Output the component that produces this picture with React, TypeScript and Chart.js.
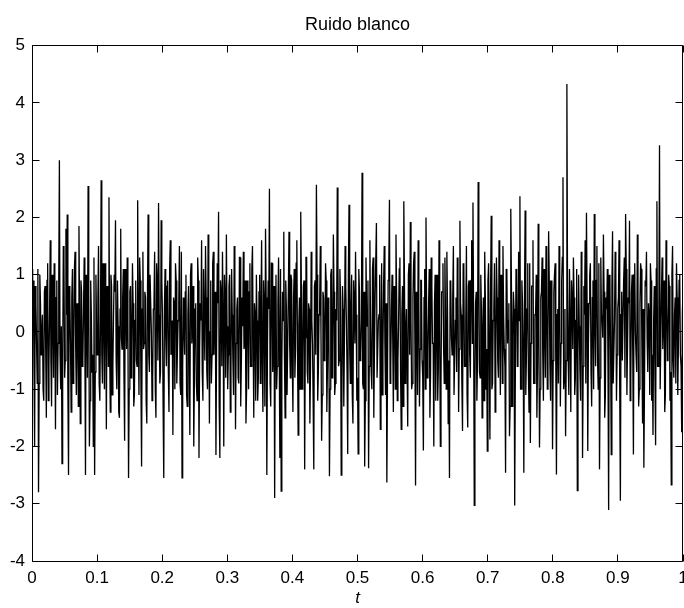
import React, { useEffect, useRef } from "react";
import { Chart, registerables } from "chart.js";

Chart.register(...registerables);

const chartTitle = "Ruido blanco";
const xAxisTitle = "t";
const xTickLabels = ["0", "0.1", "0.2", "0.3", "0.4", "0.5", "0.6", "0.7", "0.8", "0.9", "1"];
const yTickLabels = ["-4", "-3", "-2", "-1", "0", "1", "2", "3", "4", "5"];
const tStart = 0;
const tEnd = 1;

// white-noise samples: even-numbered samples (carry the visible spikes)
const noiseEven: number[] = [
  1.1, 0.9, -2.0, 0.5, -0.9, -2.8, 1.0, -0.4, 0.3, -1.2, 0.8, -1.5, 1.2, -0.6, 1.6, -1.3, 0.4, 1.2, -1.7, 0.9, -0.2, 3.0, -1.0, -2.3, 1.5,
  -0.8, 1.8, 2.05, -2.5, 0.6, -1.4, 1.1, -0.3, 1.4, -1.1, 0.2, 1.85, -1.6, 0.7, -0.5, 1.3, -2.5, 0.4, 2.55, -2.0, 0.9, -0.7, -2.0, -2.5, 1.0,
  -0.4, 1.5, -1.2, 2.65, -0.9, 0.3, 1.2, -1.7, 0.6, 2.35, -1.4, 0.8, -0.6, 1.0, 1.95, -1.0, 0.1, -1.5, 1.8, -0.3, 1.1, -1.9, 0.5, 1.3, -2.55,
  0.7, -0.8, 1.2, -1.3, 0.2, -0.5, 2.3, -1.1, 0.9, -2.35, 1.4, -0.2, 0.6, -1.6, 2.05, -0.7, 1.0, -1.2, 0.4, 1.4, -1.5, 0.8, 2.25, -0.9, 1.95,
  0.3, -2.55, 1.1, -0.6, 0.9, -1.4, 1.6, -0.3, -1.8, 0.5, 1.2, -0.9, 0.2, 1.5, -1.1, -2.55, 0.6, -0.4, 1.0, -1.3, 0.8, -1.8, 1.2, 0.1, -2.0,
  0.4, -0.9, 1.3, -2.2, 0.5, 1.6, -1.2, 0.2, 1.5, -0.7, 1.7, -1.6, 0.9, -0.4, 1.4, 0.3, -2.15, 1.2, 2.1, -2.2, 0.7, 1.4, -2.0, 0.6, 1.7,
  -1.0, 0.8, -1.4, 1.1, -0.5, 1.5, -1.7, 0.4, -0.8, 1.3, -1.3, 0.6, 1.4, -0.2, -1.6, 0.9, -1.0, 1.2, -0.6, 1.5, -1.5, 0.3, 1.0, -1.2, 0.7,
  -0.9, 1.6, -1.4, 0.5, 1.8, -2.5, 0.9, 2.5, -1.3, 1.2, -0.4, -2.9, 1.0, -0.6, 1.3, -2.2, -2.78, 0.7, 1.75, -1.5, 0.4, -1.1, 1.75, -0.8, 0.9,
  -1.4, 1.1, -0.3, 1.6, -1.8, 0.6, 2.1, -1.0, 0.8, -2.4, 1.3, -0.7, 0.5, -1.6, 1.4, -0.2, -2.4, 0.9, 2.57, -1.2, 0.3, 1.5, -1.9, 0.7, -0.5,
  1.2, -1.4, 0.6, -2.52, 1.0, -0.8, 1.7, -1.1, 0.4, 2.52, -0.6, 1.1, -2.5, 0.8, -1.3, 1.5, 0.2, -2.13, 2.22, -0.9, 1.0, -1.6, 0.5, 1.4, -1.2,
  -2.13, 0.7, -0.4, 2.78, -1.0, -2.35, 1.3, 0.1, -2.38, 1.6, -0.7, 1.1, -1.5, 0.6, 1.9, -0.8, 0.3, -1.7, 1.2, -0.3, 1.5, -1.1, -2.63, 0.9, 2.31,
  -0.6, 1.0, -1.4, 0.5, 1.7, -1.2, 0.2, 1.3, -1.7, 0.8, 2.28, -0.9, 0.4, -1.65, 1.2, 1.92, -1.0, 0.6, 1.4, -2.68, 0.3, 1.6, -1.3, 0.9, -0.5,
  -2.07, 1.1, 2.0, -0.8, 0.5, -1.5, 1.3, -0.2, -2.0, 1.0, 0.4, -1.2, 1.6, -2.0, 0.7, 1.2, -0.9, 0.2, 1.4, -1.6, -2.55, 0.8, -0.4, 1.5, -1.1,
  0.6, 1.3, -1.4, 1.94, 0.3, -1.73, 1.1, -0.6, 1.5, -1.67, 0.9, -0.8, 1.6, 2.26, -3.03, 0.5, -1.2, 2.62, -0.7, 1.0, -1.5, 0.6, 1.4, -1.0, -2.08,
  1.2, -1.88, 2.03, -0.9, 0.4, -1.4, 1.3, -0.5, 1.6, -1.1, 0.8, 1.5, -0.3, -2.46, 1.0, 0.2, -1.82, 2.15, -1.3, 0.7, -3.03, 1.1, -0.6, 1.4, 2.37,
  -1.0, 0.5, -2.46, 2.12, -0.4, 1.2, -1.4, -1.94, 0.8, 1.6, -0.9, 0.3, -1.5, 1.89, -2.02, 0.6, 1.3, -1.2, 0.1, 1.5, -1.0, 1.76, -0.6, 0.9, -2.05,
  0.7, 1.2, -2.49, 0.4, 1.5, -1.3, 0.9, 2.7, -0.8, -1.82, 4.33, -0.5, 1.1, -1.4, 0.6, 1.3, -1.1, 0.2, -2.77, 1.0, -0.7, 1.4, -2.2, 0.8, 1.6,
  2.08, -2.08, 0.5, 1.2, -1.3, 0.9, 2.06, -0.6, 1.5, -1.0, -2.4, 1.3, 0.2, 1.7, -1.5, 0.6, 1.1, -3.11, 0.8, -2.14, 1.76, -0.9, 1.4, -1.2, 0.4,
  1.6, -2.95, 0.7, -0.5, 1.3, 2.06, -1.1, 0.6, 1.94, -0.8, 1.0, -2.14, 1.2, -0.4, 1.7, -1.3, 0.5, 1.1, -1.6, -2.37, 0.9, 1.4, -0.7, 0.3, 1.2,
  -1.2, -1.8, 0.8, -1.98, 2.28, -0.6, 3.26, -1.0, 1.3, 0.2, -1.4, 1.6, -0.5, 1.0, -1.2, -2.67, 1.5, -0.8, 0.6, 1.2, -1.1, 0.9, -0.4, -1.75, 0.8,
];

// odd-numbered samples (fill the dense core of the band)
const noiseOdd: number[] = [
  0.3, -0.6, 0.8, -0.2, 1.1, -0.9, 0.5, 0.0, -1.0, 0.7, -0.3, 0.9, -1.2, 0.4, -0.5, 1.0, -0.8, 0.2, 0.6, -1.1, 0.9, -0.4, 0.1, -0.7, 1.2,
  -0.5, 0.3, -1.0, 0.8, -0.2, 0.6, -0.9, 1.1, -0.3, 0.5, -1.3, 0.2, 0.9, -0.6, 0.4, -0.1, 1.0, -0.8, 0.7, -1.2, 0.3, -0.4, 1.3, -0.7, 0.1,
  0.6, -0.9, 0.2, -0.4, 1.2, -1.0, 0.5, 0.8, -0.6, -0.2, 1.0, -1.1, 0.3, 0.7, -0.5, 0.9, -1.4, 0.4, -0.1, 0.6, -0.8, 1.1, -0.3, 0.2, -1.0,
  0.8, -0.2, 0.5, -1.1, 0.9, -0.6, 0.1, 1.3, -0.9, 0.4, -0.3, 0.7, -1.2, 0.6, -0.4, 1.0, 0.0, -0.8, 0.5, -1.0, 1.2, -0.5, 0.3, -0.7, 0.9,
  -1.3, 0.4, -0.1, 0.8, -0.7, 1.1, -0.4, 0.2, 0.6, -1.0, 0.9, -0.3, 0.5, -0.9, 1.4, -0.6, 0.1, 0.7, -1.1, 0.3, -0.5, 1.0, -0.2, 0.8, -0.8,
  0.5, -1.2, 0.9, -0.3, 0.2, -0.7, 1.1, -0.5, 0.6, -1.0, 0.4, 0.0, -0.9, 1.2, -0.4, 0.7, -0.2, 0.5, -1.3, 0.9, -0.6, 0.3, 1.0, -0.8, 0.1,
  -0.4, 1.0, -0.7, 0.3, -1.1, 0.8, -0.2, 0.6, -0.9, 1.3, -0.5, 0.1, -0.3, 0.9, -1.0, 0.4, 0.7, -0.6, 1.1, -0.1, 0.5, -1.2, 0.2, -0.8, 1.0,
  0.3, -0.5, 0.9, -1.3, 0.6, -0.2, 0.4, -0.9, 1.2, -0.7, 0.8, 0.0, -1.0, 0.5, -0.3, 1.1, -0.6, 0.2, -0.4, 0.9, -1.1, 0.7, -0.2, 1.0, -0.5,
  0.6, -0.8, 1.2, -0.3, 0.1, -1.0, 0.7, -0.5, 0.9, -0.1, 1.3, -0.9, 0.4, -0.6, 0.2, -1.2, 0.8, -0.4, 1.0, -0.7, 0.5, 0.0, -1.1, 0.6, -0.2,
  0.9, -0.6, 0.3, -1.0, 1.1, -0.4, 0.7, -0.9, 0.2, 1.2, -0.5, 0.6, -1.3, 0.4, -0.1, 0.8, -0.7, 1.0, -0.3, 0.5, -1.1, 0.9, -0.2, 0.3, -0.8,
  1.1, -0.5, 0.2, -0.9, 0.7, -1.2, 0.4, 0.9, -0.6, 0.1, -1.0, 1.3, -0.3, 0.6, -0.8, 0.2, 1.0, -0.4, -1.1, 0.8, -0.2, 0.5, -0.7, 1.2, -0.9,
  0.4, -0.1, 0.8, -1.0, 0.6, -0.5, 1.1, -0.7, 0.3, -1.3, 0.9, 0.0, -0.6, 1.0, -0.4, 0.2, -0.9, 1.2, -0.2, 0.7, -1.1, 0.5, -0.3, 0.9, -0.8,
  0.6, -1.0, 0.3, -0.4, 1.1, -0.7, 0.8, -0.2, 0.5, -1.2, 1.0, -0.6, 0.1, -0.9, 0.7, -0.3, 1.3, -1.0, 0.4, -0.5, 0.9, -0.1, 0.6, -1.1, 0.2,
  -0.7, 1.0, -0.3, 0.5, -0.9, 1.2, -0.6, 0.2, -1.1, 0.8, -0.4, 0.9, -0.2, 0.3, -1.0, 0.7, -0.5, 1.1, -0.8, 0.4, 0.0, -1.2, 0.6, -0.3, 0.9,
  -0.5, 0.7, -1.0, 0.2, 1.2, -0.4, 0.6, -0.8, 0.1, 1.0, -0.9, 0.3, -0.6, 1.1, -0.2, 0.5, -1.3, 0.8, -0.1, 0.4, -0.7, 1.0, -0.5, 0.2, -1.0,
  0.9, -0.3, 0.6, -1.1, 0.4, -0.7, 1.2, -0.2, 0.8, -0.9, 0.3, 1.0, -0.6, 0.1, -1.0, 0.7, -0.4, 1.1, -0.8, 0.5, -0.1, 0.9, -1.2, 0.2, -0.5,
  1.0, -0.6, 0.3, -0.9, 0.8, -0.2, 1.3, -1.0, 0.4, -0.5, 0.7, -1.1, 0.2, 0.9, -0.3, 0.6, -0.8, 1.1, -0.4, 0.1, -1.2, 0.8, -0.6, 0.3, -0.9,
  0.5, -0.2, 1.0, -0.7, 0.6, -1.0, 0.2, 0.9, -0.5, 1.2, -0.8, 0.3, -0.1, 0.7, -1.1, 0.4, -0.6, 1.0, -0.3, 0.8, -0.9, 0.2, 1.1, -0.4, 0.6,
  -1.0, 0.3, -0.5, 0.9, -0.8, 1.1, -0.2, 0.5, -1.2, 0.7, -0.4, 1.0, 0.0, -0.7, 0.6, -1.0, 1.2, -0.3, 0.4, -0.9, 0.8, -0.1, 0.5, -1.1, 0.9,
  -0.4, 0.2, -0.8, 1.1, -0.6, 0.4, -1.0, 0.7, -0.3, 0.9, -1.1, 0.5, -0.2, 0.8, -0.7, 1.0, -0.5, 0.3, -0.9, 0.6, -0.2, 1.0, -0.6, 0.3,
];

const FONT = "'Liberation Sans', Arial, Helvetica, sans-serif";

const framePlugin = {
  id: "matlabFrame",
  afterDatasetsDraw(chart: any) {
    const { ctx, chartArea, scales } = chart;
    const L = Math.floor(chartArea.left) + 0.5;
    const R = Math.floor(chartArea.right) - 0.5;
    const T = Math.floor(chartArea.top) + 0.5;
    const B = Math.floor(chartArea.bottom) + 0.5;
    const len = 7;
    ctx.save();
    ctx.strokeStyle = "#000";
    ctx.lineWidth = 1;
    ctx.beginPath();
    ctx.rect(L, T, R - L, B - T);
    scales.x.ticks.forEach((tk: any) => {
      const px = Math.floor(scales.x.getPixelForValue(tk.value)) + 0.5;
      ctx.moveTo(px, B);
      ctx.lineTo(px, B - len);
      ctx.moveTo(px, T);
      ctx.lineTo(px, T + len);
    });
    scales.y.ticks.forEach((tk: any) => {
      const py = Math.floor(scales.y.getPixelForValue(tk.value)) + 0.5;
      ctx.moveTo(L, py);
      ctx.lineTo(L + len, py);
      ctx.moveTo(R, py);
      ctx.lineTo(R - len, py);
    });
    ctx.stroke();
    ctx.restore();
  },
};

export default function App() {
  const ref = useRef<HTMLCanvasElement>(null);

  useEffect(() => {
    document.body.style.margin = "0";
    const canvas = ref.current;
    if (!canvas) return;
    const samples: number[] = [];
    noiseEven.forEach((v, i) => {
      samples.push(v);
      if (i < noiseOdd.length) samples.push(noiseOdd[i]);
    });
    const last = samples.length - 1;
    const points = samples.map((v, i) => ({ x: tStart + ((tEnd - tStart) * i) / last, y: v }));
    const chart = new Chart(canvas, {
      type: "line",
      data: {
        datasets: [
          {
            data: points,
            borderColor: "#000",
            borderWidth: 1.3,
            pointRadius: 0,
            tension: 0,
            fill: false,
          },
        ],
      },
      options: {
        animation: false,
        responsive: false,
        devicePixelRatio: 1,
        layout: { padding: { left: 0, right: 1, top: 0, bottom: 0 }, autoPadding: false },
        plugins: {
          legend: { display: false },
          tooltip: { enabled: false },
          title: {
            display: true,
            text: chartTitle,
            fullSize: false,
            color: "#000",
            font: { family: FONT, size: 18, weight: "normal" },
            padding: { top: 14, bottom: 10 },
          },
        },
        scales: {
          x: {
            type: "linear",
            min: 0,
            max: 1,
            afterFit: (s: any) => {
              s.height = 47;
              s.paddingLeft = 0;
              s.paddingRight = 0;
            },
            grid: { display: false, drawTicks: false },
            border: { display: false },
            ticks: {
              stepSize: 0.1,
              autoSkip: false,
              maxRotation: 0,
              padding: 7,
              color: "#000",
              font: { family: FONT, size: 17 },
              callback: (_v: any, i: number) => xTickLabels[i],
            },
            title: {
              display: true,
              text: xAxisTitle,
              color: "#000",
              font: { family: FONT, size: 17, style: "italic" },
              padding: { top: 0, bottom: 0 },
            },
          },
          y: {
            type: "linear",
            min: -4,
            max: 5,
            afterFit: (s: any) => {
              s.width = 32;
              s.paddingTop = 0;
              s.paddingBottom = 0;
            },
            grid: { display: false, drawTicks: false },
            border: { display: false },
            ticks: {
              stepSize: 1,
              autoSkip: false,
              padding: 7,
              color: "#000",
              font: { family: FONT, size: 17 },
              callback: (_v: any, i: number) => yTickLabels[i],
            },
          },
        },
      },
      plugins: [framePlugin],
    });
    return () => chart.destroy();
  }, []);

  return <canvas ref={ref} width={684} height={608} style={{ display: "block" }} />;
}
